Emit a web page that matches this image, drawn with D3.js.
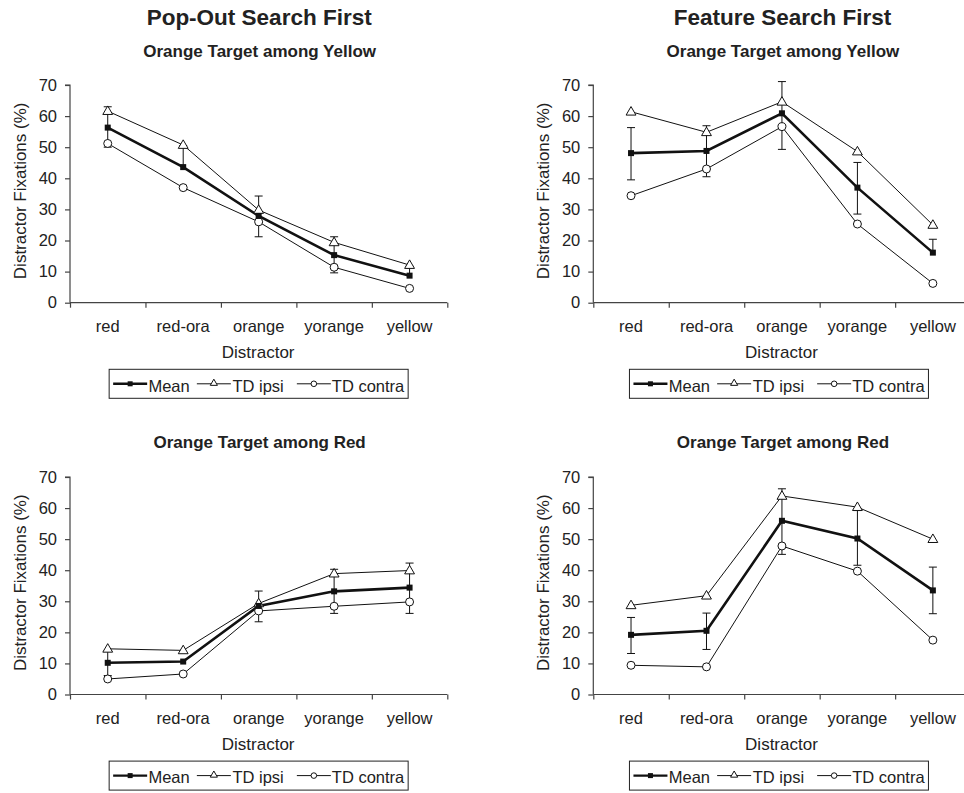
<!DOCTYPE html>
<html>
<head>
<meta charset="utf-8">
<script src="https://cdn.jsdelivr.net/npm/d3@7"></script>
<style>
  html, body { margin: 0; padding: 0; background: #fff; }
  svg { display: block; }
  text { font-family: "Liberation Sans", Arial, sans-serif; fill: #222; }
</style>
</head>
<body>
<svg id="chart" width="964" height="793"></svg>
<script>
// ---------------- data ----------------
const categories = ["red", "red-ora", "orange", "yorange", "yellow"];
const seriesNames = ["Mean", "TD ipsi", "TD contra"];
const columnTitles = ["Pop-Out Search First", "Feature Search First"];
const rowTitles = ["Orange Target among Yellow", "Orange Target among Red"];
const yTicks = [0, 10, 20, 30, 40, 50, 60, 70];
const xAxisTitle = "Distractor";
const yAxisTitle = "Distractor Fixations (%)";

// Pop-out first, orange among yellow
const popYellowMean   = [56.3, 43.6, 27.9, 15.3, 8.7];
const popYellowIpsi   = [61.6, 50.7, 29.8, 19.4, 12.1];
const popYellowContra = [51.2, 37.0, 26.0, 11.4, 4.6];
const popYellowErrUp  = [6.7, 6.9, 6.4, 5.9, 3.0];
const popYellowErrDn  = [6.3, 0, 6.7, 5.7, 0];

// Feature first, orange among yellow
const featYellowMean   = [48.1, 48.8, 60.9, 37.0, 16.1];
const featYellowIpsi   = [61.4, 54.8, 64.6, 48.6, 25.0];
const featYellowContra = [34.4, 43.0, 56.6, 25.3, 6.2];
const featYellowErrUp  = [8.2, 8.1, 10.2, 8.1, 4.3];
const featYellowErrDn  = [8.6, 8.3, 11.6, 8.5, 0];

// Pop-out first, orange among red
const popRedMean   = [10.2, 10.6, 28.5, 33.2, 34.4];
const popRedIpsi   = [14.7, 14.2, 29.3, 38.9, 39.9];
const popRedContra = [5.0, 6.6, 26.9, 28.4, 29.8];
const popRedErrUp  = [4.0, 0, 4.8, 7.1, 7.9];
const popRedErrDn  = [4.1, 0, 5.1, 7.1, 8.3];

// Feature first, orange among red
const featRedMean   = [19.2, 20.5, 55.9, 50.2, 33.5];
const featRedIpsi   = [28.7, 31.8, 63.9, 60.3, 50.0];
const featRedContra = [9.4, 8.9, 47.8, 39.7, 17.5];
const featRedErrUp  = [5.6, 5.7, 10.3, 9.0, 7.5];
const featRedErrDn  = [6.0, 6.0, 10.8, 8.6, 7.5];

const panels = [
  { col: 0, row: 0, mean: popYellowMean,  ipsi: popYellowIpsi,  contra: popYellowContra,  up: popYellowErrUp,  dn: popYellowErrDn },
  { col: 1, row: 0, mean: featYellowMean, ipsi: featYellowIpsi, contra: featYellowContra, up: featYellowErrUp, dn: featYellowErrDn },
  { col: 0, row: 1, mean: popRedMean,     ipsi: popRedIpsi,     contra: popRedContra,     up: popRedErrUp,     dn: popRedErrDn },
  { col: 1, row: 1, mean: featRedMean,    ipsi: featRedIpsi,    contra: featRedContra,    up: featRedErrUp,    dn: featRedErrDn }
];

// ---------------- layout ----------------
const colX = [70, 593.3];       // y-axis x position
const plotW = 377.3;
const rowTop = [85, 477];       // pixel of y=70
const rowBottom = [302.7, 694.5]; // pixel of y=0
const FS = 16.5;
const legendLineStart = [4, 87.7, 187.7];
const legendTextStart = [39.3, 123.3, 222.7];

const svg = d3.select("#chart");
svg.append("rect").attr("width", 964).attr("height", 793).attr("fill", "#fff");

// column titles
columnTitles.forEach((t, i) => {
  svg.append("text")
    .attr("x", colX[i] + plotW / 2 + 0.5)
    .attr("y", 25)
    .attr("text-anchor", "middle")
    .attr("font-size", 22.5)
    .attr("font-weight", "bold")
    .text(t);
});

const lineGen = (x, y) => d3.line().x((d, i) => x(categories[i]) + x.bandwidth() / 2).y(d => y(d));

panels.forEach(p => {
  const x0 = colX[p.col], x1 = x0 + plotW;
  const yTop = rowTop[p.row], yBot = rowBottom[p.row];
  const x = d3.scaleBand().domain(categories).range([x0, x1]).paddingInner(0).paddingOuter(0);
  const xEdge = d3.scaleLinear().domain([0, categories.length]).range([x0, x1]);
  const y = d3.scaleLinear().domain([0, 70]).range([yBot, yTop]);
  const g = svg.append("g");
  const cx = (i) => x(categories[i]) + x.bandwidth() / 2;

  // subtitle
  g.append("text")
    .attr("x", (x0 + x1) / 2 + 1)
    .attr("y", yBot - 246.2)
    .attr("text-anchor", "middle")
    .attr("font-size", 17)
    .attr("font-weight", "bold")
    .text(rowTitles[p.row]);

  // y axis
  const yAx = g.append("g").attr("transform", `translate(${x0},0)`)
    .call(d3.axisLeft(y).tickValues(yTicks).tickSize(5).tickPadding(8).tickFormat(d3.format("d")));
  yAx.selectAll("path, line").attr("stroke", "#444").attr("stroke-width", 1.2);
  yAx.select("path.domain").attr("d", `M-5,${yTop}H0V${yBot}`);
  yAx.selectAll("text").attr("font-size", FS).attr("font-family", "Liberation Sans, Arial, sans-serif").attr("fill", "#222");

  // x axis: ticks at category boundaries
  const xAx = g.append("g").attr("transform", `translate(0,${yBot})`)
    .call(d3.axisBottom(xEdge).tickValues(d3.range(categories.length + 1)).tickSize(5).tickFormat(""));
  xAx.selectAll("path, line").attr("stroke", "#444").attr("stroke-width", 1.2);
  xAx.select("path.domain").attr("d", `M${x0},0H${x1}`);

  // x category labels
  const xLab = g.append("g").attr("transform", `translate(0,${yBot})`)
    .call(d3.axisBottom(x).tickSize(0).tickPadding(18));
  xLab.select("path.domain").remove();
  xLab.selectAll("text").attr("font-size", FS).attr("font-family", "Liberation Sans, Arial, sans-serif").attr("fill", "#222");

  // axis titles
  g.append("text")
    .attr("x", (x0 + x1) / 2 - 0.5)
    .attr("y", yBot + 55.6)
    .attr("text-anchor", "middle")
    .attr("font-size", FS + 0.5)
    .text(xAxisTitle);
  g.append("text")
    .attr("transform", `translate(${x0 - 44.5},${(yTop + yBot) / 2 - 3}) rotate(-90)`)
    .attr("text-anchor", "middle")
    .attr("font-size", FS + 0.5)
    .text(yAxisTitle);

  // error bars (mean)
  const eb = g.append("g").attr("stroke", "#111").attr("stroke-width", 1);
  p.mean.forEach((m, i) => {
    const xc = cx(i);
    if (p.up[i] > 0) {
      eb.append("line").attr("x1", xc).attr("x2", xc).attr("y1", y(m)).attr("y2", y(m + p.up[i]));
      eb.append("line").attr("x1", xc - 4).attr("x2", xc + 4).attr("y1", y(m + p.up[i])).attr("y2", y(m + p.up[i]));
    }
    if (p.dn[i] > 0) {
      eb.append("line").attr("x1", xc).attr("x2", xc).attr("y1", y(m)).attr("y2", y(m - p.dn[i]));
      eb.append("line").attr("x1", xc - 4).attr("x2", xc + 4).attr("y1", y(m - p.dn[i])).attr("y2", y(m - p.dn[i]));
    }
  });

  // lines
  g.append("path").datum(p.ipsi).attr("d", lineGen(x, y)).attr("fill", "none").attr("stroke", "#111").attr("stroke-width", 1);
  g.append("path").datum(p.contra).attr("d", lineGen(x, y)).attr("fill", "none").attr("stroke", "#111").attr("stroke-width", 1);
  g.append("path").datum(p.mean).attr("d", lineGen(x, y)).attr("fill", "none").attr("stroke", "#111").attr("stroke-width", 2.6);

  // markers
  const tri = d3.symbol().type(d3.symbolTriangle).size(42);
  g.selectAll(null).data(p.ipsi).enter().append("path")
    .attr("d", tri)
    .attr("transform", (d, i) => `translate(${cx(i)},${y(d) + 0.5})`)
    .attr("fill", "#fff").attr("stroke", "#111").attr("stroke-width", 1);
  g.selectAll(null).data(p.contra).enter().append("circle")
    .attr("cx", (d, i) => cx(i)).attr("cy", d => y(d)).attr("r", 4)
    .attr("fill", "#fff").attr("stroke", "#111").attr("stroke-width", 1);
  g.selectAll(null).data(p.mean).enter().append("rect")
    .attr("x", (d, i) => cx(i) - 3).attr("y", d => y(d) - 3)
    .attr("width", 6).attr("height", 6).attr("fill", "#111");

  // legend
  const boxW = 299, boxH = 29;
  const bx = (x0 + x1) / 2 - boxW / 2 - (p.col === 1 ? 3 : 0);
  const by = yBot + 66.6;
  const lg = g.append("g").attr("transform", `translate(${bx},${by})`);
  lg.append("rect").attr("width", boxW).attr("height", boxH).attr("fill", "#fff").attr("stroke", "#222").attr("stroke-width", 1);
  seriesNames.forEach((name, k) => {
    const ly = 14.5;
    const cur = legendLineStart[k];
    lg.append("line").attr("x1", cur).attr("x2", cur + 34).attr("y1", ly).attr("y2", ly)
      .attr("stroke", "#111").attr("stroke-width", k === 0 ? 2.4 : 1);
    const mx = cur + 17;
    if (k === 0) {
      lg.append("rect").attr("x", mx - 2.5).attr("y", ly - 2.5).attr("width", 5).attr("height", 5).attr("fill", "#111");
    } else if (k === 1) {
      lg.append("path").attr("d", d3.symbol().type(d3.symbolTriangle).size(22))
        .attr("transform", `translate(${mx},${ly - 0.5})`).attr("fill", "#fff").attr("stroke", "#111").attr("stroke-width", 1);
    } else {
      lg.append("circle").attr("cx", mx).attr("cy", ly).attr("r", 2.8).attr("fill", "#fff").attr("stroke", "#111").attr("stroke-width", 1);
    }
    lg.append("text").attr("x", legendTextStart[k]).attr("y", 22.4).attr("font-size", FS).text(name);
  });
});
</script>
</body>
</html>
